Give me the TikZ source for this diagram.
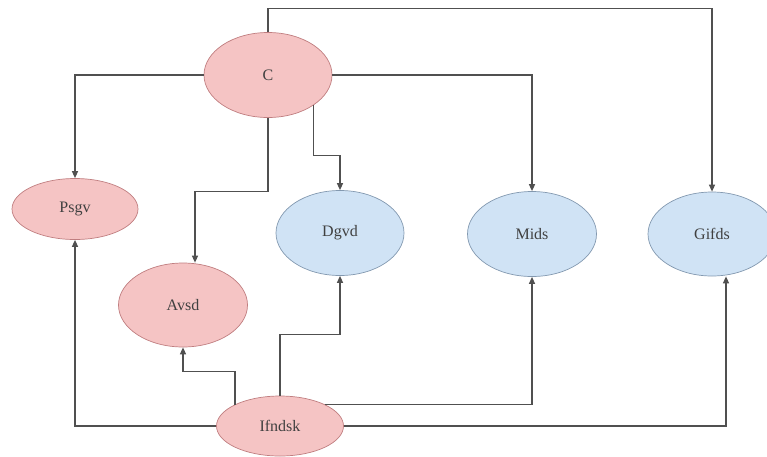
\documentclass[tikz,border=0pt]{standalone}
\usepackage{fontspec}
\setmainfont{Liberation Serif}
\usetikzlibrary{shapes.geometric,arrows.meta}
\definecolor{pinkfill}{HTML}{F5C4C4}
\definecolor{pinkborder}{HTML}{C07E80}
\definecolor{bluefill}{HTML}{D0E3F5}
\definecolor{blueborder}{HTML}{8399B0}
\definecolor{linecol}{HTML}{505050}
\definecolor{txt}{HTML}{404040}
\begin{document}
\begin{tikzpicture}[x=1pt,y=-1pt,
  base/.style={ellipse, inner sep=0pt, line width=0.7pt, text=txt, font=\fontsize{16}{19}\selectfont},
  pinknode/.style={base, draw=pinkborder, fill=pinkfill},
  bluenode/.style={base, draw=blueborder, fill=bluefill},
  conn/.style={draw=linecol, line width=1.3pt, -{Triangle[length=7pt,width=6pt]}}]
\useasboundingbox (0,0) rectangle (767,456);
\node[pinknode, minimum width=128pt, minimum height=85pt] (C) at (268,75) {C};
\node[pinknode, minimum width=126pt, minimum height=61pt] (Psgv) at (75,209) {Psgv};
\node[pinknode, minimum width=129pt, minimum height=84pt] (Avsd) at (183,305) {Avsd};
\node[bluenode, minimum width=128pt, minimum height=85pt] (Dgvd) at (340,233) {Dgvd};
\node[bluenode, minimum width=129pt, minimum height=85pt] (Mids) at (532,234) {Mids};
\node[bluenode, minimum width=128pt, minimum height=84pt] (Gifds) at (712,234) {Gifds};
\node[pinknode, minimum width=127pt, minimum height=60pt] (Ifndsk) at (280,426) {Ifndsk};
\draw[conn] (C.north) -- ++(0,-24) -| (Gifds.north);
\draw[conn] (C.west) -| (Psgv.north);
\draw[conn] (C.east) -| (Mids.north);
\draw[conn] (C.south) -- ++(0,73.5) -| ([xshift=12pt]Avsd.north);
\draw[conn] (C.south east) -- ++(0,50) -| (Dgvd.north);
\draw[conn] (Ifndsk.west) -| (Psgv.south);
\draw[conn] (Ifndsk.north west) -- ++(0,-33) -| (Avsd.south);
\draw[conn] (Ifndsk.north) -- ++(0,-61) -| (Dgvd.south);
\draw[conn] (Ifndsk.north east) -| (Mids.south);
\draw[conn] (Ifndsk.east) -| ([xshift=14pt]Gifds.south);
\end{tikzpicture}
\end{document}
